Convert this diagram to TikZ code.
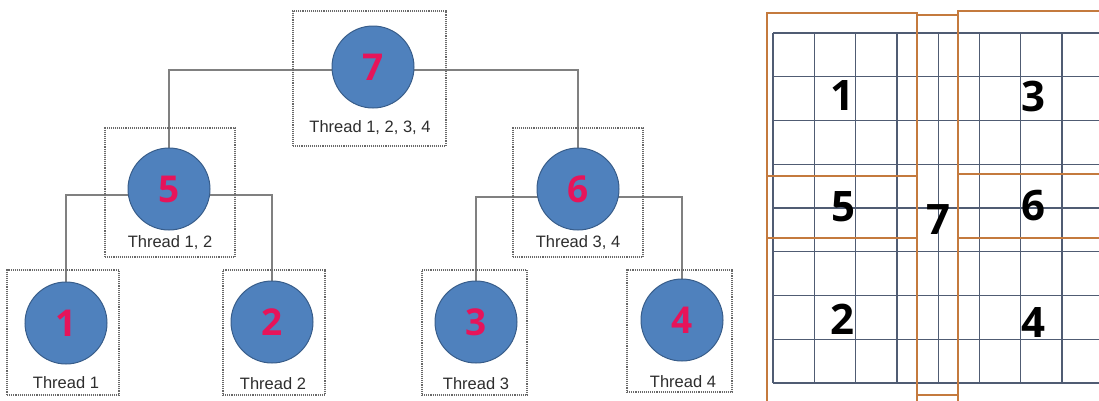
\documentclass[tikz,border=0pt]{standalone}
\usepackage{fontspec}
\setmainfont{Liberation Sans}
\newfontfamily\numfont{Open Sans}
\usetikzlibrary{backgrounds}
\definecolor{circfill}{RGB}{79,129,189}
\definecolor{circedge}{RGB}{56,93,138}
\definecolor{numred}{RGB}{230,20,90}
\definecolor{linegray}{RGB}{128,128,128}
\definecolor{boxgray}{RGB}{105,105,105}
\definecolor{labelgray}{RGB}{45,45,45}
\definecolor{gridcol}{RGB}{80,92,115}
\definecolor{orangecol}{RGB}{196,122,62}
\tikzset{
  tnode/.style={circle, fill=circfill, draw=circedge, line width=1pt, minimum size=82pt, inner sep=0pt,
    font=\numfont\bfseries\fontsize{37}{37}\selectfont, text=numred},
  tbox/.style={draw=boxgray, densely dotted, line width=1.1pt, inner sep=0pt},
  tlabel/.style={font=\fontsize{16.5}{18}\selectfont, text=labelgray, inner sep=0pt},
  conn/.style={draw=linegray, line width=1.8pt},
  gline/.style={draw=gridcol, line width=1.3pt},
  obox/.style={draw=orangecol, line width=2pt},
  gnum/.style={font=\numfont\bfseries\fontsize{42}{42}\selectfont, text=black, inner sep=0pt}
}
\begin{document}
\begin{tikzpicture}[x=1pt,y=-1pt]
\useasboundingbox (0,0) rectangle (1099,400);
% dotted boxes
\node[tbox, minimum width=153pt, minimum height=135pt] (b7) at (369.5,78.5) {};
\node[tbox, minimum width=130pt, minimum height=129pt] (b5) at (170,192.5) {};
\node[tbox, minimum width=130pt, minimum height=129pt] (b6) at (578,192.5) {};
\node[tbox, minimum width=112pt, minimum height=125pt] (b1) at (63,332.5) {};
\node[tbox, minimum width=102pt, minimum height=125pt] (b2) at (274,332.5) {};
\node[tbox, minimum width=105pt, minimum height=125pt] (b3) at (474.5,332.5) {};
\node[tbox, minimum width=105pt, minimum height=122pt] (b4) at (679.5,331) {};
% circles
\node[tnode] (c7) at (373,67) {7};
\node[tnode] (c5) at (169,189) {5};
\node[tnode] (c6) at (578,189) {6};
\node[tnode] (c1) at (66,323) {1};
\node[tnode] (c2) at (272,322) {2};
\node[tnode] (c3) at (476,322) {3};
\node[tnode] (c4) at (682,320) {4};
% junctions
\coordinate (j7) at (373,70);
\coordinate (j5) at (169,195);
\coordinate (j6) at (578,197);
\begin{scope}[on background layer]
\draw[conn] (c5) |- (j7) -| (c6);
\draw[conn] (c1) |- (j5) -| (c2);
\draw[conn] (c3) |- (j6) -| (c4);
\end{scope}
% labels
\node[tlabel] (l7) at (370,128) {Thread 1, 2, 3, 4};
\node[tlabel] (l5) at (170,243) {Thread 1, 2};
\node[tlabel] (l6) at (578,243) {Thread 3, 4};
\node[tlabel] (l1) at (66,383) {Thread 1};
\node[tlabel] (l2) at (273,384) {Thread 2};
\node[tlabel] (l3) at (476,384) {Thread 3};
\node[tlabel] (l4) at (683,382) {Thread 4};
% grid
\foreach \k in {0,...,7} {
  \draw[gline] ({773+41.3*\k},33) -- ({773+41.3*\k},383);
}
\foreach \k in {0,...,8} {
  \draw[gline] (773,{33+43.75*\k}) -- (1099,{33+43.75*\k});
}
% orange regions
\draw[obox] (767,13) rectangle (917,176);
\draw[obox] (767,176) rectangle (917,238);
\draw[obox] (767,238) rectangle (917,403);
\draw[obox] (917,15) rectangle (958,395);
\draw[obox] (958,11) rectangle (1101,174);
\draw[obox] (958,174) rectangle (1101,238);
\draw[obox] (958,238) rectangle (1101,403);
% region numbers
\node[gnum] (g1) at (842,96) {1};
\node[gnum] (g3) at (1033,96) {3};
\node[gnum] (g5) at (843,207) {5};
\node[gnum] (g6) at (1033,206) {6};
\node[gnum] (g7) at (938,220) {7};
\node[gnum] (g2) at (842,319) {2};
\node[gnum] (g4) at (1033,322) {4};
\end{tikzpicture}
\end{document}
